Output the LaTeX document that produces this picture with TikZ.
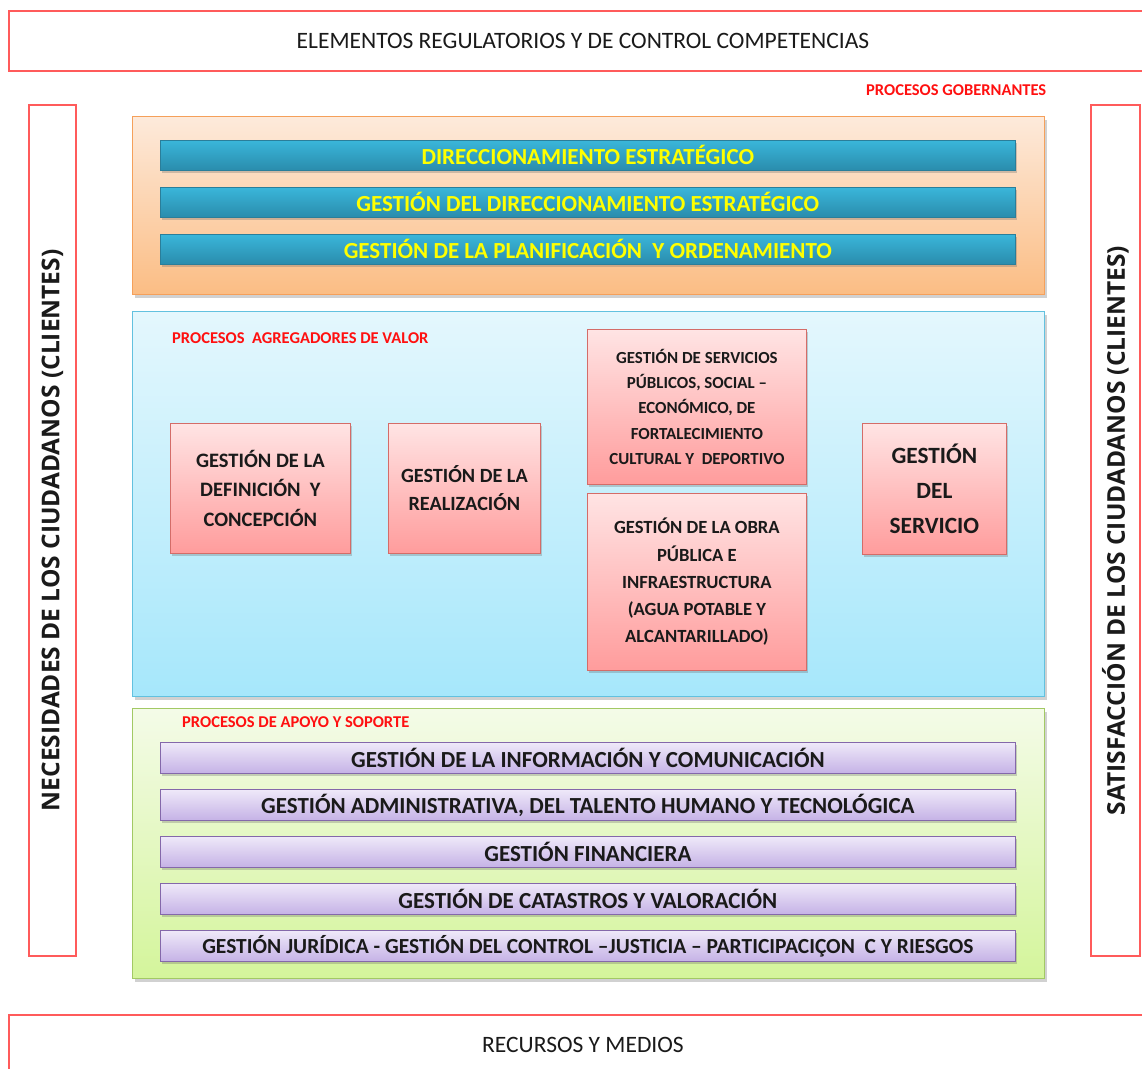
\documentclass[tikz,border=0pt]{standalone}
\usepackage{fontspec}
\setmainfont{Carlito}
\newfontfamily\sidefont{Open Sans}
\usetikzlibrary{shadows}

\definecolor{framered}{HTML}{FF5B5B}
\definecolor{labelred}{HTML}{FF1010}
\definecolor{orTop}{HTML}{FDEADB}
\definecolor{orBot}{HTML}{FBBD84}
\definecolor{orLine}{HTML}{F5A05A}
\definecolor{tlTop}{HTML}{3AB6DA}
\definecolor{tlBot}{HTML}{2A8CAC}
\definecolor{tlLine}{HTML}{2A7E9A}
\definecolor{bgTop}{HTML}{E4F7FD}
\definecolor{bgBot}{HTML}{A6E7FB}
\definecolor{bgLine}{HTML}{62C1DF}
\definecolor{pkTop}{HTML}{FFE4E4}
\definecolor{pkBot}{HTML}{FF9C9C}
\definecolor{pkLine}{HTML}{D46C68}
\definecolor{grTop}{HTML}{F4FBE8}
\definecolor{grBot}{HTML}{D4F59B}
\definecolor{grLine}{HTML}{A2C964}
\definecolor{puTop}{HTML}{EFE9F9}
\definecolor{puBot}{HTML}{C5B2E6}
\definecolor{puLine}{HTML}{8468AA}
\definecolor{yellowtxt}{HTML}{FFFF00}
\definecolor{inktxt}{HTML}{1A1A1A}

\begin{document}
\begin{tikzpicture}[x=1pt,y=-1pt,
  softshadow/.style={drop shadow={shadow xshift=2pt,shadow yshift=-3pt,opacity=0.3,fill=black!60}},
  framebox/.style={draw=framered,line width=1.8pt,fill=white,anchor=north west,inner sep=0pt},
  panel/.style={anchor=north west,inner sep=0pt,line width=1pt,minimum width=912pt,softshadow},
  orangepanel/.style={panel,draw=orLine,top color=orTop,bottom color=orBot},
  bluepanel/.style={panel,draw=bgLine,top color=bgTop,bottom color=bgBot},
  greenpanel/.style={panel,draw=grLine,top color=grTop,bottom color=grBot},
  tealbar/.style={anchor=north west,inner sep=0pt,minimum width=855pt,minimum height=30pt,
    draw=tlLine,line width=0.6pt,top color=tlTop,bottom color=tlBot,softshadow,
    text=yellowtxt,font=\fontsize{23}{26}\selectfont\bfseries},
  purplebar/.style={anchor=north west,inner sep=0pt,minimum width=855pt,minimum height=31pt,
    draw=puLine,line width=0.8pt,top color=puTop,bottom color=puBot,softshadow,
    text=inktxt,font=\fontsize{23}{26}\selectfont\bfseries},
  pinkbox/.style={anchor=north west,inner sep=0pt,align=center,
    draw=pkLine,line width=0.8pt,top color=pkTop,bottom color=pkBot,softshadow,text=inktxt},
  grouplabel/.style={anchor=west,inner sep=0pt,text=labelred,font=\fontsize{16.5}{18}\selectfont\bfseries},
  sidetext/.style={rotate=90,inner sep=0pt,text=inktxt,font=\sidefont\bfseries\fontsize{24.5}{27}\selectfont}
]
\useasboundingbox (0,0) rectangle (1142,1068);

% outer frame: regulating elements, resources, needs and satisfaction
\node[framebox,minimum width=1150pt,minimum height=60pt] (regul) at (8,10) {};
\node[text=inktxt,font=\fontsize{23.5}{26}\selectfont] (regultxt) at (583,41) {ELEMENTOS REGULATORIOS Y DE CONTROL COMPETENCIAS};

\node[framebox,minimum width=1150pt,minimum height=62pt] (recur) at (8,1014) {};
\node[text=inktxt,font=\fontsize{23.5}{26}\selectfont] (recurtxt) at (583,1045) {RECURSOS Y MEDIOS};

\node[framebox,minimum width=47pt,minimum height=851pt] (needs) at (28,104) {};
\node[sidetext] (needstxt) at (needs.center) {NECESIDADES DE LOS CIUDADANOS (CLIENTES)};

\node[framebox,minimum width=49pt,minimum height=851pt] (satis) at (1090,104) {};
\node[sidetext] (satistxt) at (satis.center) {SATISFACCIÓN DE LOS CIUDADANOS (CLIENTES)};

% governing processes
\node[grouplabel] (govlbl) at (866,90) {PROCESOS GOBERNANTES};
\node[orangepanel,minimum height=178pt] (gov) at (132,116) {};
\node[tealbar] (g1) at (160,140) {DIRECCIONAMIENTO ESTRATÉGICO};
\node[tealbar] (g2) at (160,187) {GESTIÓN DEL DIRECCIONAMIENTO ESTRATÉGICO};
\node[tealbar] (g3) at (160,234) {GESTIÓN DE LA PLANIFICACIÓN\ \ Y ORDENAMIENTO};

% value-adding processes
\node[bluepanel,minimum height=385pt] (val) at (132,311) {};
\node[grouplabel] (vallbl) at (172,338) {PROCESOS\ \ AGREGADORES DE VALOR};
\node[pinkbox,minimum width=180pt,minimum height=130pt,font=\fontsize{20.5}{29.5}\selectfont\bfseries] (v1) at (170,423)
  {GESTIÓN DE LA\\DEFINICIÓN\ \ Y\\CONCEPCIÓN};
\node[pinkbox,minimum width=152pt,minimum height=130pt,font=\fontsize{20.2}{28}\selectfont\bfseries] (v2) at (388,423)
  {GESTIÓN DE LA\\REALIZACIÓN};
\node[pinkbox,minimum width=219pt,minimum height=155pt,font=\fontsize{16.9}{25.2}\selectfont\bfseries] (v3) at (587,329)
  {GESTIÓN DE SERVICIOS\\PÚBLICOS, SOCIAL –\\ECONÓMICO, DE\\FORTALECIMIENTO\\CULTURAL Y\ \ DEPORTIVO};
\node[pinkbox,minimum width=219pt,minimum height=177pt,font=\fontsize{18.6}{27.2}\selectfont\bfseries] (v4) at (587,493)
  {GESTIÓN DE LA OBRA\\PÚBLICA E\\INFRAESTRUCTURA\\(AGUA POTABLE Y\\ALCANTARILLADO)};
\node[pinkbox,minimum width=144pt,minimum height=131pt,font=\fontsize{23.3}{35}\selectfont\bfseries] (v5) at (862,423)
  {GESTIÓN\\DEL\\SERVICIO};

% support processes
\node[greenpanel,minimum height=270pt] (sup) at (132,708) {};
\node[grouplabel] (suplbl) at (182,722) {PROCESOS DE APOYO Y SOPORTE};
\node[purplebar] (s1) at (160,742) {GESTIÓN DE LA INFORMACIÓN Y COMUNICACIÓN};
\node[purplebar] (s2) at (160,789) {GESTIÓN ADMINISTRATIVA, DEL TALENTO HUMANO Y TECNOLÓGICA};
\node[purplebar] (s3) at (160,836) {GESTIÓN FINANCIERA};
\node[purplebar] (s4) at (160,883) {GESTIÓN DE CATASTROS Y VALORACIÓN};
\node[purplebar,font=\fontsize{21.5}{24}\selectfont\bfseries] (s5) at (160,930)
  {GESTIÓN JURÍDICA - GESTIÓN DEL CONTROL –JUSTICIA – PARTICIPACIÇON\ \ C Y RIESGOS};
\end{tikzpicture}
\end{document}
